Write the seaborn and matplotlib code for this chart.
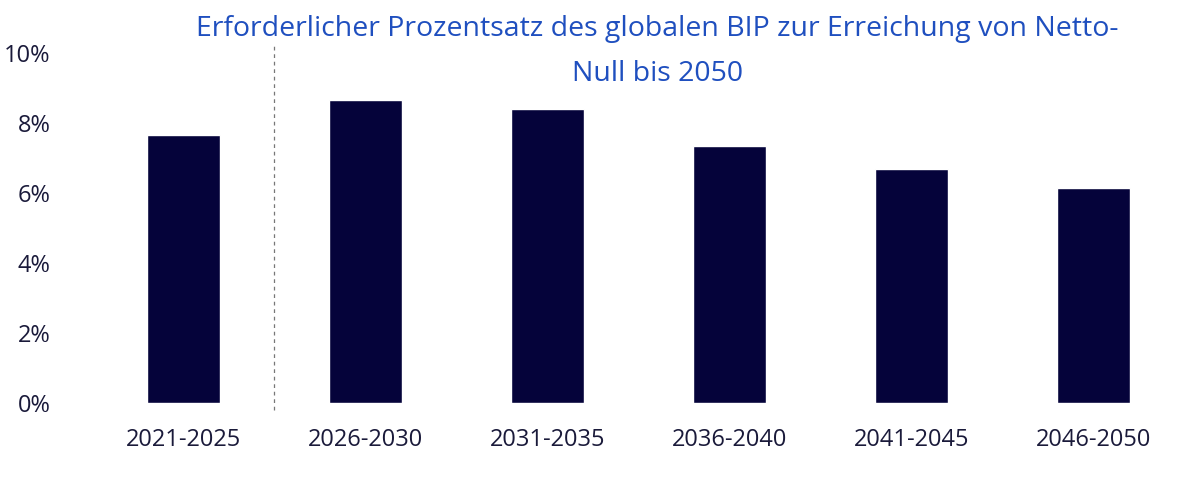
import pandas as pd
import matplotlib.pyplot as plt
import seaborn as sns

sns.set_theme(style="white")
plt.rcParams['font.family'] = ['Open Sans', 'DejaVu Sans']

perioden = ['2021-2025', '2026-2030', '2031-2035', '2036-2040', '2041-2045', '2046-2050']
anteil = [7.65, 8.65, 8.4, 7.35, 6.7, 6.15]
df = pd.DataFrame({'Periode': perioden, 'Anteil': anteil})

fig = plt.figure(figsize=(12, 4.78), dpi=100)
ax = fig.add_axes([0.077, 0.157, 0.91, 0.732])
sns.barplot(data=df, x='Periode', y='Anteil', color='#05033a', width=0.4, saturation=1, ax=ax)

ax.set_xlim(-0.5, 5.5)
ax.set_ylim(0, 10)
ax.set_yticks(range(0, 11, 2))
ax.set_yticklabels([f'{v}%' for v in range(0, 11, 2)])
ax.tick_params(axis='both', labelsize=17, colors='#1a1a3a', length=0)
ax.tick_params(axis='x', pad=18)
ax.tick_params(axis='y', pad=30)
ax.set_xlabel('')
ax.set_ylabel('')
for s in ax.spines.values():
    s.set_visible(False)

ax.axvline(0.5, ymin=-0.02, ymax=1.03, color='#777777', linestyle=(0, (3, 3)), linewidth=0.9, clip_on=False)

fig.text(0.548, 0.94, 'Erforderlicher Prozentsatz des globalen BIP zur Erreichung von Netto-',
         ha='center', va='center', fontsize=20.5, color='#1f4fbf')
fig.text(0.548, 0.845, 'Null bis 2050', ha='center', va='center', fontsize=20.5, color='#1f4fbf')

plt.savefig('out.png', dpi=100)
